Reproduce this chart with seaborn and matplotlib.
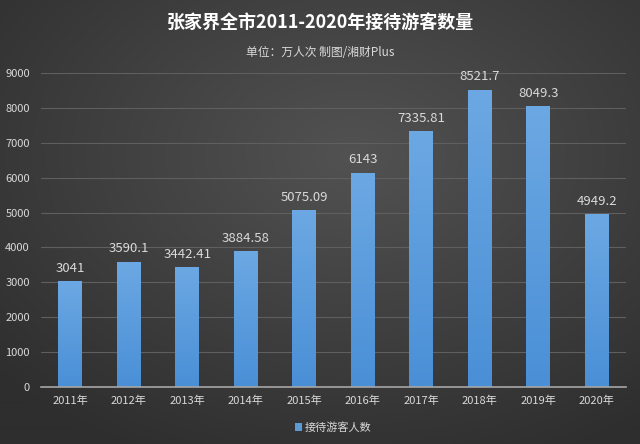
import numpy as np
import pandas as pd
import matplotlib
matplotlib.use("Agg")
import matplotlib.pyplot as plt
import seaborn as sns

years = ["2011年", "2012年", "2013年", "2014年", "2015年", "2016年", "2017年", "2018年", "2019年", "2020年"]
visitors = [3041, 3590.1, 3442.41, 3884.58, 5075.09, 6143, 7335.81, 8521.7, 8049.3, 4949.2]
value_labels = ["3041", "3590.1", "3442.41", "3884.58", "5075.09", "6143", "7335.81", "8521.7", "8049.3", "4949.2"]
series_name = "接待游客人数"
title = "张家界全市2011-2020年接待游客数量"
subtitle = "单位：万人次 制图/湘财Plus"
yticks = [0, 1000, 2000, 3000, 4000, 5000, 6000, 7000, 8000, 9000]

sns.set_theme(style="dark")
plt.rcParams['font.family'] = ['Noto Sans CJK SC', 'DejaVu Sans']

W, H = 640, 444
fig = plt.figure(figsize=(W / 100, H / 100), dpi=100)

# radial-ish gradient background
yy, xx = np.mgrid[0:H, 0:W]
cx, cy = W * 0.55, H * 0.35
r = np.sqrt(((xx - cx) / W) ** 2 + ((yy - cy) / H) ** 2)
r = np.clip(r / 0.75, 0, 1)
c_in = np.array([0x52, 0x52, 0x52]) / 255
c_out = np.array([0x2e, 0x2e, 0x2e]) / 255
img = c_in[None, None, :] * (1 - r[..., None]) + c_out[None, None, :] * r[..., None]
bg_ax = fig.add_axes([0, 0, 1, 1], zorder=-10)
bg_ax.imshow(img, aspect="auto", extent=[0, 1, 0, 1], origin="upper")
bg_ax.axis("off")

ax = fig.add_axes([41 / W, 1 - 387 / H, (626 - 41) / W, (387 - 73) / H])
ax.set_facecolor("none")

df = pd.DataFrame({"year": years, "visitors": visitors})
sns.barplot(data=df, x="year", y="visitors", color="#5b9bd5", width=0.41,
            saturation=1, ax=ax, label=series_name, zorder=3, linewidth=0,
            edgecolor="none")

# vertical gradient on the bars (lighter at top)
grad = np.linspace(0, 1, 256)[:, None]
c_top = np.array([0x6c, 0xa8, 0xe3]) / 255
c_bot = np.array([0x4a, 0x8f, 0xd6]) / 255
gimg = c_top[None, None, :] * (1 - grad[..., None]) + c_bot[None, None, :] * grad[..., None]
for p in ax.patches:
    x0, w, h = p.get_x(), p.get_width(), p.get_height()
    im = ax.imshow(gimg, extent=[x0, x0 + w, 0, h], aspect="auto", origin="upper", zorder=4)
    im.set_clip_path(p)

for p, lab in zip(ax.patches, value_labels):
    ax.text(p.get_x() + p.get_width() / 2, p.get_height() + 180, lab,
            ha="center", va="bottom", color="#d9d9d9", fontsize=9.5)

ax.set_ylim(0, 9000)
ax.set_yticks(yticks)
ax.set_yticklabels([str(v) for v in yticks], color="#d9d9d9", fontsize=8)
ax.tick_params(axis="x", colors="#d9d9d9", labelsize=8, length=0, pad=6)
ax.tick_params(axis="y", length=0, pad=8)
ax.set_xlabel("")
ax.set_ylabel("")
ax.grid(axis="y", color="#5f5f5f", linewidth=0.8, zorder=0)
ax.grid(axis="x", visible=False)
for s in ["top", "right", "left"]:
    ax.spines[s].set_visible(False)
ax.spines["bottom"].set_color("#a6a6a6")
ax.spines["bottom"].set_linewidth(1.2)
ax.spines["bottom"].set_zorder(5)
ax.set_xlim(-0.5, 9.5)

leg = ax.legend(loc="upper center", bbox_to_anchor=(0.5, -0.08), frameon=False,
                fontsize=8, handlelength=0.6, handleheight=0.6, handletextpad=0.3)
for t in leg.get_texts():
    t.set_color("#d9d9d9")

fig.text(0.5, 1 - 22 / H, title, ha="center", va="center", color="white",
         fontsize=13, fontweight="bold")
fig.text(0.5, 1 - 53 / H, subtitle, ha="center", va="center", color="#d9d9d9",
         fontsize=8.5)

fig.savefig("out.png", dpi=100)
